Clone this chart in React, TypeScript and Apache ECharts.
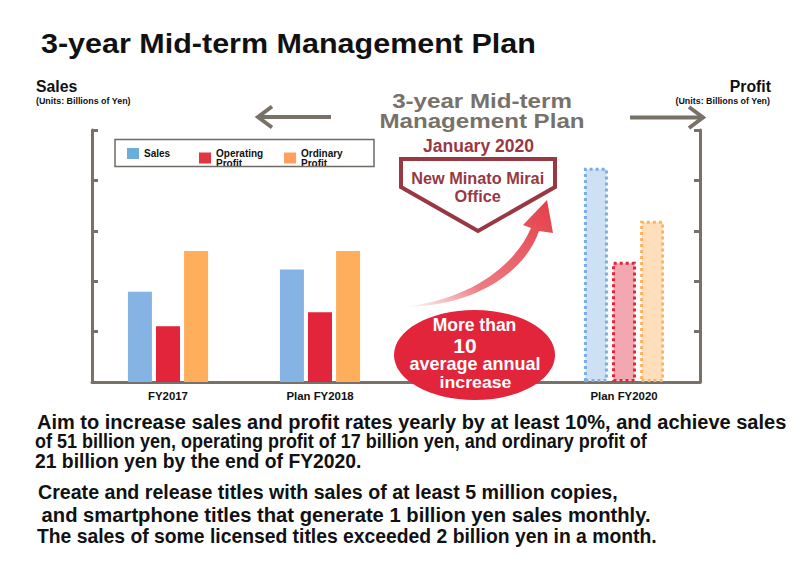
import { useEffect, useRef } from "react";
import * as echarts from "echarts";

// Categories along the bottom axis (the third slot is an intentional gap)
const categories = ["FY2017", "Plan FY2018", "", "Plan FY2020"];
// Sales, in billions of yen (left axis)
const salesValues = [21.5, 26.8, null, 51];
// Operating and ordinary profit, in billions of yen (right axis)
const operatingProfitValues = [7.2, 9.0, null, 15.5];
const ordinaryProfitValues = [16.9, 16.9, null, 20.8];
// Index of the planned (target) year, drawn with dotted outlines
const planIndex = 3;

// Axis ranges (no tick labels are shown, only tick marks)
const salesAxis = { min: 0, max: 60, interval: 12 };
const profitAxis = { min: 0, max: 32.5, interval: 6.5 };

const legendNames = ["Sales", "Operating\nProfit", "Ordinary\nProfit"];

const bodyLines = [
  "Aim to increase sales and profit rates yearly by at least 10%, and achieve sales",
  "of 51 billion yen, operating profit of 17 billion yen, and ordinary profit of",
  "21 billion yen by the end of FY2020.",
  "Create and release titles with sales of at least 5 million copies,",
  " and smartphone titles that generate 1 billion yen sales monthly.",
  "The sales of some licensed titles exceeded 2 billion yen in a month.",
];

const FONT = '"Liberation Sans", Arial, Helvetica, sans-serif';
const AXIS_GRAY = "#78716a";
const DARK_RED = "#983843";

const COLORS = {
  sales: { solid: "#85b3e3", legend: "#6aafdc", planFill: "#cde0f4", planBorder: "#78aee3" },
  operating: { solid: "#e2253a", legend: "#e5333f", planFill: "#f3a7b0", planBorder: "#e2253a" },
  ordinary: { solid: "#ffae5b", legend: "#ffa060", planFill: "#ffdfbb", planBorder: "#ffb25e" },
};

const arrowPath =
  "M402 307 C475 307 525 272 539 231 L553 233 L547 200 L523 225 L531 228 C514 268 466 301 402 307 Z";

let shapeRegistered = false;
function registerShapes() {
  if (shapeRegistered) return;
  echarts.graphic.registerShape("risingArrow", echarts.graphic.extendPath(arrowPath, {}) as any);
  shapeRegistered = true;
}

function buildSeriesData(values: (number | null)[], c: { planFill: string; planBorder: string }) {
  return values.map((v, i) => {
    if (v === null) return "-";
    if (i === planIndex) {
      return {
        value: v,
        itemStyle: {
          color: c.planFill,
          borderColor: c.planBorder,
          borderWidth: 3,
          borderType: [3, 3],
        },
      };
    }
    return v;
  });
}

function text(
  x: number,
  y: number,
  str: string,
  size: number,
  color: string,
  align: "left" | "center" | "right" = "left",
  scaleX = 1,
  extra: Record<string, unknown> = {}
) {
  return {
    type: "text",
    x,
    y,
    scaleX,
    z: 20,
    style: {
      text: str,
      x: 0,
      y: 0,
      font: `bold ${size}px ${FONT}`,
      fill: color,
      align,
      textAlign: align,
      verticalAlign: "middle",
      textVerticalAlign: "middle",
      ...extra,
    },
  };
}

export default function App() {
  const ref = useRef<HTMLDivElement>(null);

  useEffect(() => {
    if (!ref.current) return;
    registerShapes();
    const chart = echarts.init(ref.current, undefined, { renderer: "svg" });

    const legendBase = {
      top: 148,
      padding: 0,
      itemWidth: 12,
      itemHeight: 11,
      selectedMode: false,
      icon: "rect",
      textStyle: {
        fontFamily: FONT,
        fontWeight: "bold" as const,
        fontSize: 10,
        lineHeight: 10,
        color: "#111",
      },
    };

    const bodyY = [422, 441, 461, 492, 515, 536];
    const bodyX = [37, 35, 35, 38, 36, 37];
    const bodyScale = [1.0, 0.9, 0.967, 0.981, 1.01, 0.967];

    const graphic: any[] = [
      // Main title
      text(41, 43, "3-year Mid-term Management Plan", 28, "#111", "left", 1.09),
      // Axis headers
      text(36, 86.5, "Sales", 15.8, "#111"),
      text(36, 101, "(Units: Billions of Yen)", 8.9, "#111"),
      text(771, 86.5, "Profit", 15.8, "#111", "right"),
      text(770, 101, "(Units: Billions of Yen)", 8.9, "#111", "right"),
      // Arrows around the plan heading
      {
        type: "line",
        z: 20,
        shape: { x1: 258, y1: 117, x2: 331, y2: 117 },
        style: { stroke: AXIS_GRAY, lineWidth: 4 },
      },
      {
        type: "polyline",
        z: 20,
        shape: { points: [[272, 106.5], [258, 117], [272, 127.5]] },
        style: { stroke: AXIS_GRAY, lineWidth: 4, fill: "none" },
      },
      {
        type: "line",
        z: 20,
        shape: { x1: 630, y1: 117.5, x2: 703, y2: 117.5 },
        style: { stroke: AXIS_GRAY, lineWidth: 4 },
      },
      {
        type: "polyline",
        z: 20,
        shape: { points: [[689, 107], [703, 117.5], [689, 128]] },
        style: { stroke: AXIS_GRAY, lineWidth: 4, fill: "none" },
      },
      // Plan heading
      text(482, 101.5, "3-year Mid-term", 21, AXIS_GRAY, "center", 1.15, { lineHeight: 19 }),
      text(482, 121.5, "Management Plan", 21, AXIS_GRAY, "center", 1.15, { lineHeight: 19 }),
      text(478.5, 146, "January 2020", 17.5, DARK_RED, "center", 1, { lineHeight: 17 }),
      // Office callout (downward pentagon)
      {
        type: "polygon",
        z: 15,
        shape: {
          points: [
            [401, 159],
            [555, 159],
            [555, 187],
            [478, 231],
            [401, 187],
          ],
        },
        style: { fill: "#fff", stroke: DARK_RED, lineWidth: 4, lineJoin: "miter" },
      },
      text(477.7, 178.3, "New Minato Mirai", 16.3, DARK_RED, "center", 1, { lineHeight: 16 }),
      text(477.7, 195.5, "Office", 16.3, DARK_RED, "center", 1, { lineHeight: 16 }),
      // Rising arrow
      {
        type: "risingArrow",
        x: 0,
        y: 0,
        z: 15,
        style: {
          fill: new echarts.graphic.LinearGradient(0, 1, 1, 0, [
            { offset: 0, color: "rgba(232,72,82,0)" },
            { offset: 0.35, color: "rgba(230,66,76,0.7)" },
            { offset: 1, color: "#e43d48" },
          ]),
        },
      },
      // Growth badge
      {
        type: "ellipse",
        z: 15,
        shape: { cx: 474.5, cy: 355, rx: 80.5, ry: 45 },
        style: { fill: "#e2253a" },
      },
      text(474.5, 325, "More than", 17.5, "#fff", "center", 1, { lineHeight: 16 }),
      text(465, 345.5, "10", 21, "#fff", "center", 1, { lineHeight: 19 }),
      text(475, 364.5, "average annual", 17.5, "#fff", "center", 1.03, { lineHeight: 15 }),
      text(475.5, 382.5, "increase", 17.2, "#fff", "center", 1.03, { lineHeight: 15 }),
      // Legend frame
      {
        type: "rect",
        z: 5,
        shape: { x: 115, y: 139.5, width: 259, height: 27 },
        style: { fill: "none", stroke: "#6f6a64", lineWidth: 1.5 },
      },
      // Body copy
      ...bodyLines.map((l, i) =>
        text(bodyX[i], bodyY[i], l, 20, "#111", "left", bodyScale[i], { lineHeight: 19 })
      ),
    ];

    chart.setOption({
      animation: false,
      backgroundColor: "#fff",
      grid: { left: 92, right: 100, top: 130, bottom: 183 },
      legend: [
        {
          ...legendBase,
          left: 127,
          data: [{ name: legendNames[0], itemStyle: { color: COLORS.sales.legend } }],
        },
        {
          ...legendBase,
          left: 199,
          data: [{ name: legendNames[1], itemStyle: { color: COLORS.operating.legend } }],
        },
        {
          ...legendBase,
          left: 284,
          data: [{ name: legendNames[2], itemStyle: { color: COLORS.ordinary.legend } }],
        },
      ],
      xAxis: {
        type: "category",
        data: categories,
        axisLine: { show: true, lineStyle: { color: AXIS_GRAY, width: 3 } },
        axisTick: { show: false },
        axisLabel: {
          interval: 0,
          margin: 8,
          fontFamily: FONT,
          fontWeight: "bold",
          fontSize: 11.4,
          color: "#111",
        },
        splitLine: { show: false },
      },
      yAxis: [
        {
          type: "value",
          position: "left",
          ...salesAxis,
          axisLine: { show: true, lineStyle: { color: AXIS_GRAY, width: 3 } },
          axisTick: { show: true, inside: true, length: 6, lineStyle: { color: AXIS_GRAY, width: 3 } },
          axisLabel: { show: false },
          splitLine: { show: false },
        },
        {
          type: "value",
          position: "right",
          ...profitAxis,
          axisLine: { show: true, lineStyle: { color: AXIS_GRAY, width: 3 } },
          axisTick: { show: true, inside: true, length: 6, lineStyle: { color: AXIS_GRAY, width: 3 } },
          axisLabel: { show: false },
          splitLine: { show: false },
        },
      ],
      series: [
        {
          name: legendNames[0],
          type: "bar",
          yAxisIndex: 0,
          barWidth: 24,
          barGap: "17%",
          itemStyle: { color: COLORS.sales.solid },
          data: buildSeriesData(salesValues, COLORS.sales),
        },
        {
          name: legendNames[1],
          type: "bar",
          yAxisIndex: 1,
          barWidth: 24,
          barGap: "17%",
          itemStyle: { color: COLORS.operating.solid },
          data: buildSeriesData(operatingProfitValues, COLORS.operating),
        },
        {
          name: legendNames[2],
          type: "bar",
          yAxisIndex: 1,
          barWidth: 24,
          barGap: "17%",
          itemStyle: { color: COLORS.ordinary.solid },
          data: buildSeriesData(ordinaryProfitValues, COLORS.ordinary),
        },
      ],
      graphic,
    });

    return () => chart.dispose();
  }, []);

  return (
    <div
      ref={ref}
      style={{ position: "fixed", left: 0, top: 0, width: 800, height: 565 }}
    />
  );
}
